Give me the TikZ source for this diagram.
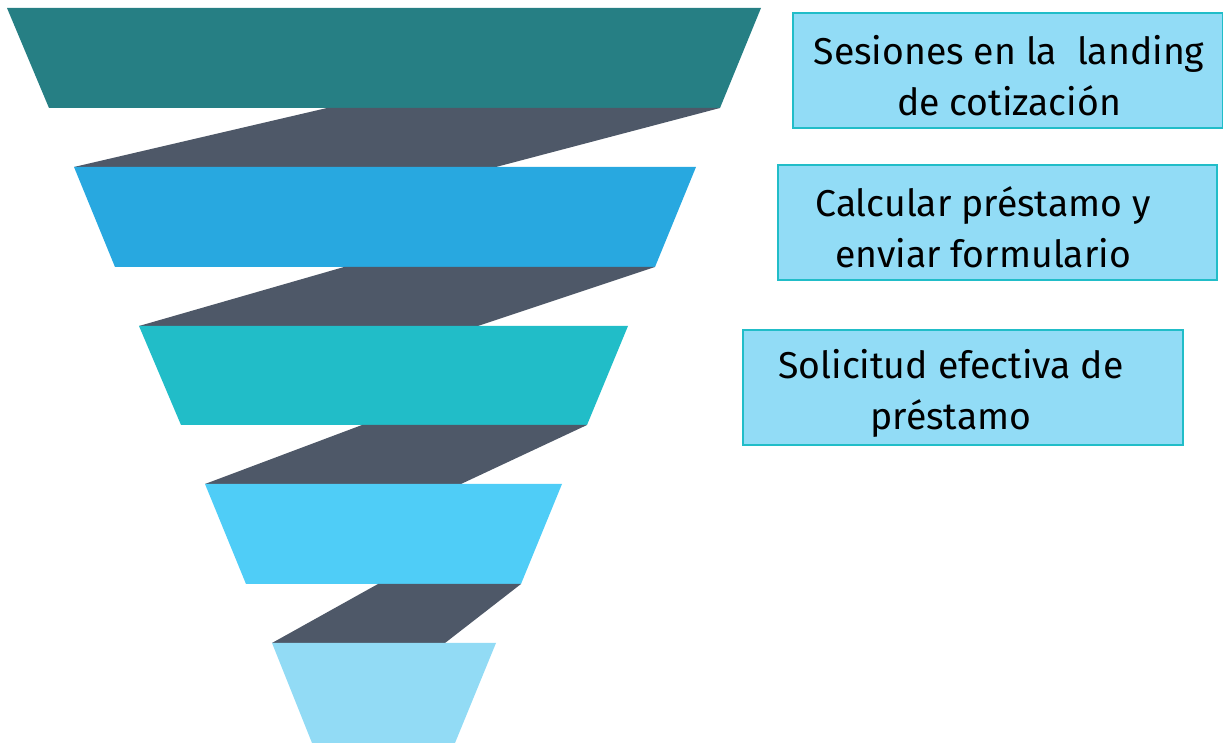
\documentclass[tikz,border=0pt]{standalone}
\usepackage{fontspec}
\setmainfont{Fira Sans}
\definecolor{bandA}{HTML}{267F84}
\definecolor{bandB}{HTML}{28A8E0}
\definecolor{bandC}{HTML}{21BDC8}
\definecolor{bandD}{HTML}{4FCDF7}
\definecolor{bandE}{HTML}{92DBF5}
\definecolor{fold}{HTML}{4E5868}
\definecolor{boxfill}{HTML}{92DCF6}
\definecolor{boxline}{HTML}{21BDC8}
\tikzset{
  labelbox/.style={draw=boxline, fill=boxfill, line width=1pt, minimum height=57.5pt, inner sep=0pt},
  boxtext/.style={align=center, font=\fontsize{18.7}{25.5}\selectfont, inner sep=0pt}
}
\begin{document}
\begin{tikzpicture}[x=0.5pt,y=-0.5pt]
\useasboundingbox (0,0) rectangle (1223,743);
% funnel bands
\fill[bandA] (7,8) -- (761,8) -- (720,108) -- (49,108) -- cycle;
\fill[fold] (327,108) -- (720,108) -- (496,167) -- (74,167) -- cycle;
\fill[bandB] (74,167) -- (696,167) -- (655,267) -- (115,267) -- cycle;
\fill[fold] (344,267) -- (655,267) -- (478,326) -- (139,326) -- cycle;
\fill[bandC] (139,326) -- (628,326) -- (587,425) -- (181,425) -- cycle;
\fill[fold] (362,425) -- (587,425) -- (461,484) -- (205,484) -- cycle;
\fill[bandD] (205,484) -- (562,484) -- (521,584) -- (246,584) -- cycle;
\fill[fold] (378,584) -- (521,584) -- (445,643) -- (272,643) -- cycle;
\fill[bandE] (272,643) -- (496,643) -- (455,743) -- (312,743) -- cycle;

% boxes
\node[labelbox, minimum width=215pt] (box1) at (1008,70.5) {};
\node[labelbox, minimum width=219.5pt] (box2) at (997.5,223) {};
\node[labelbox, minimum width=220pt] (box3) at (963,387.5) {};

\node[boxtext] (text1) at (1009,76) {Sesiones en la~ landing\\de cotización};
\node[boxtext] (text2) at (983,227) {Calcular préstamo y\\enviar formulario};
\node[boxtext] (text3) at (951,393) {Solicitud efectiva de\\préstamo};
\end{tikzpicture}
\end{document}
